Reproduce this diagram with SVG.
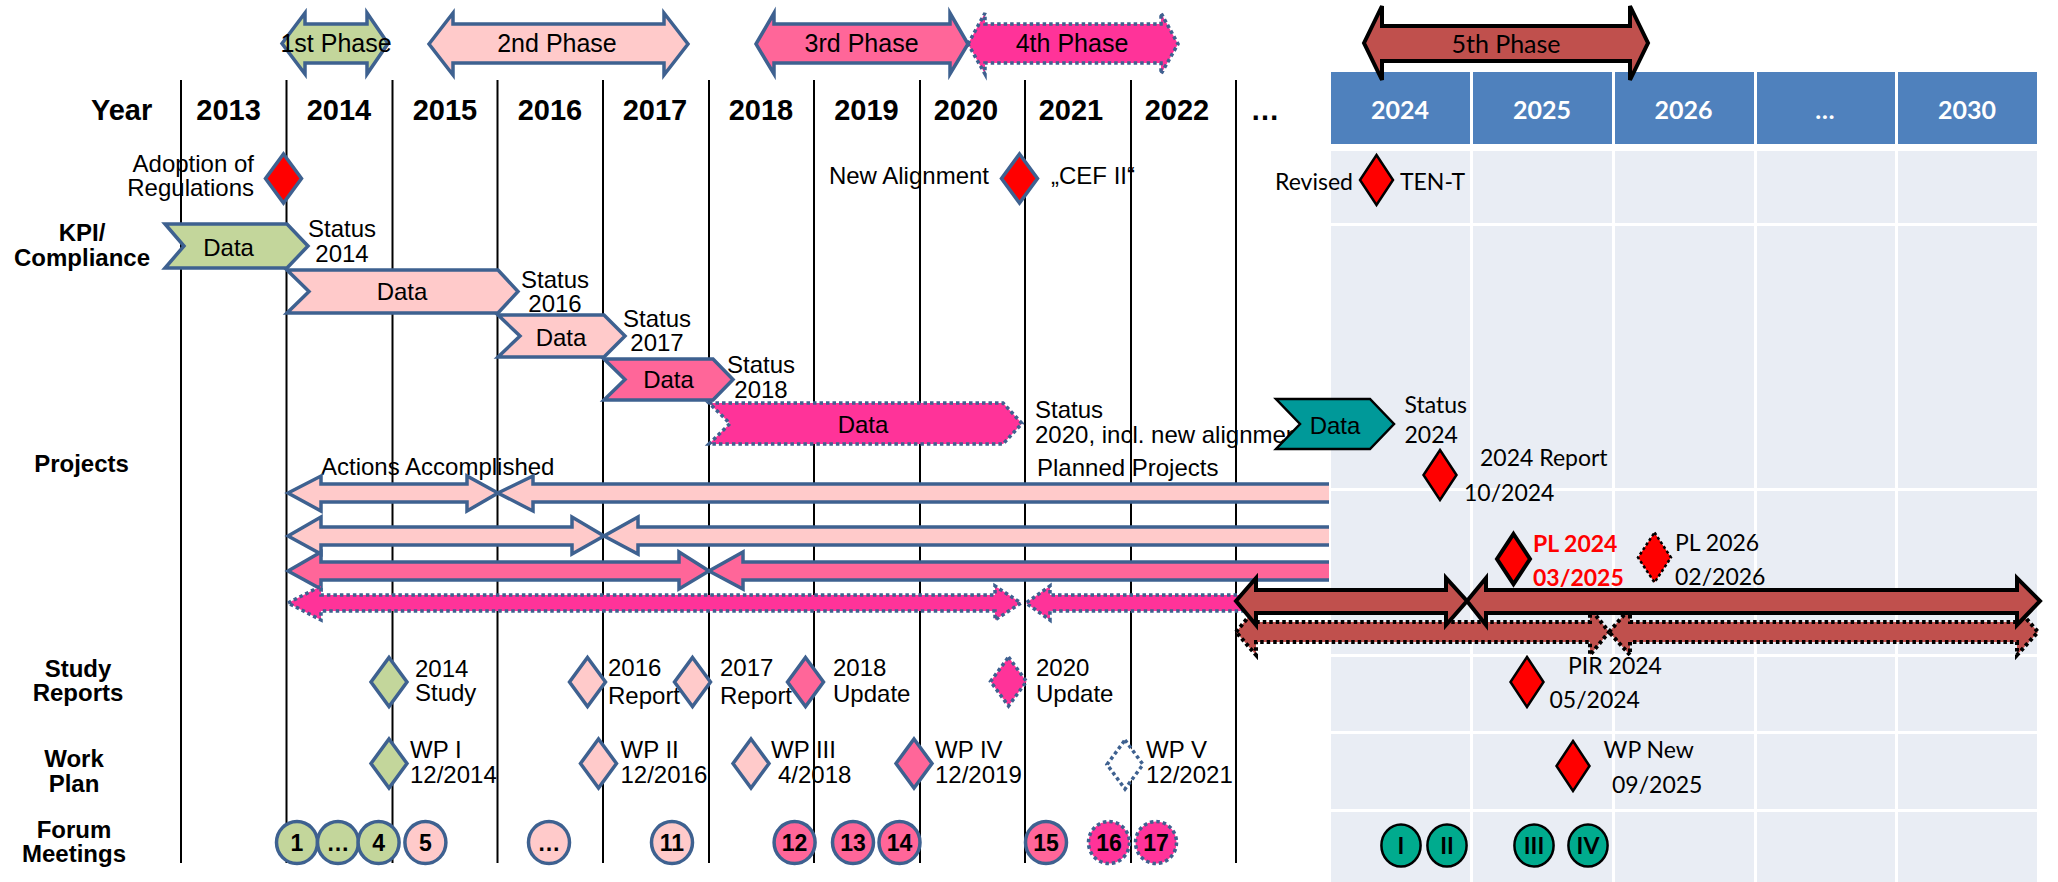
<svg xmlns="http://www.w3.org/2000/svg" xmlns:xlink="http://www.w3.org/1999/xlink" width="2058" height="882" viewBox="0 0 2058 882">
<style>
.t{font-family:"Liberation Sans",Arial,sans-serif;font-size:24px;fill:#000}
.ph{font-size:25px}
.yr{font-family:"Liberation Sans",Arial,sans-serif;font-size:29px;font-weight:bold;fill:#000}
.lb{font-family:"Liberation Sans",Arial,sans-serif;font-size:24px;font-weight:bold;fill:#000}
.cl{font-family:Lato,"Open Sans",sans-serif;font-size:23px;fill:#000}
.hd{font-family:Lato,"Open Sans",sans-serif;font-size:25px;font-weight:bold;fill:#fff}
.num{font-family:"Liberation Sans",Arial,sans-serif;font-size:23px;font-weight:bold;fill:#000}
.rom{font-family:Lato,"Open Sans",sans-serif;font-size:23px;font-weight:bold;fill:#000}
.red{fill:#FF0000;font-weight:bold}
.grid{stroke:#000;stroke-width:2}
.bs{stroke:#3E6190;stroke-width:3.5;stroke-linejoin:miter}
.bd{stroke:#3E6190;stroke-width:3.5;stroke-dasharray:3.5 3}
.ks{stroke:#000;stroke-width:4}
.kd{stroke:#000;stroke-width:4;stroke-dasharray:3.5 3}
.k2{stroke:#000;stroke-width:2.5}
.k2d{stroke:#000;stroke-width:2.5;stroke-dasharray:3 2.5}
.g{fill:#C3D69B}
.lp{fill:#FFCACA}
.pk{fill:#FF6699}
.hp{fill:#FF3399}
.br{fill:#C0504D}
.tl{fill:#009999}
.tc{fill:#00AB8E}
.rd{fill:#FF0000}
.wh{fill:#fff}
.cell{fill:#E9EDF4}
.hcell{fill:#4F81BD}
</style>
<defs>
<path id="dmB" d="M0,-24.5 L18,0 L0,24.5 L-18,0 Z"/>
<path id="dmK" d="M0,-25 L16.5,0 L0,25 L-16.5,0 Z"/>
</defs>
<rect x="0" y="0" width="2058" height="882" fill="#fff"/>

<g id="table">
<rect class="hcell" x="1331" y="72" width="139" height="72"/>
<rect class="hcell" x="1473" y="72" width="139" height="72"/>
<rect class="hcell" x="1615" y="72" width="139" height="72"/>
<rect class="hcell" x="1757" y="72" width="138" height="72"/>
<rect class="hcell" x="1898" y="72" width="139" height="72"/>
<g class="cell">
<rect x="1331" y="151" width="139" height="72"/><rect x="1473" y="151" width="139" height="72"/><rect x="1615" y="151" width="139" height="72"/><rect x="1757" y="151" width="138" height="72"/><rect x="1898" y="151" width="139" height="72"/>
<rect x="1331" y="226" width="139" height="262"/><rect x="1473" y="226" width="139" height="262"/><rect x="1615" y="226" width="139" height="262"/><rect x="1757" y="226" width="138" height="262"/><rect x="1898" y="226" width="139" height="262"/>
<rect x="1331" y="491" width="139" height="163"/><rect x="1473" y="491" width="139" height="163"/><rect x="1615" y="491" width="139" height="163"/><rect x="1757" y="491" width="138" height="163"/><rect x="1898" y="491" width="139" height="163"/>
<rect x="1331" y="657" width="139" height="74"/><rect x="1473" y="657" width="139" height="74"/><rect x="1615" y="657" width="139" height="74"/><rect x="1757" y="657" width="138" height="74"/><rect x="1898" y="657" width="139" height="74"/>
<rect x="1331" y="734" width="139" height="75"/><rect x="1473" y="734" width="139" height="75"/><rect x="1615" y="734" width="139" height="75"/><rect x="1757" y="734" width="138" height="75"/><rect x="1898" y="734" width="139" height="75"/>
<rect x="1331" y="812" width="139" height="70"/><rect x="1473" y="812" width="139" height="70"/><rect x="1615" y="812" width="139" height="70"/><rect x="1757" y="812" width="138" height="70"/><rect x="1898" y="812" width="139" height="70"/>
</g>
<g class="hd" text-anchor="middle">
<text x="1400" y="118.5">2024</text><text x="1542" y="118.5">2025</text><text x="1683.5" y="118.5">2026</text><text x="1825" y="118.5">…</text><text x="1967" y="118.5">2030</text>
</g>
</g>

<g id="gridlines" class="grid">
<line x1="181" y1="80" x2="181" y2="863"/><line x1="286.5" y1="80" x2="286.5" y2="863"/><line x1="392.5" y1="80" x2="392.5" y2="863"/><line x1="497.5" y1="80" x2="497.5" y2="863"/><line x1="603" y1="80" x2="603" y2="863"/><line x1="709" y1="80" x2="709" y2="863"/><line x1="814" y1="80" x2="814" y2="863"/><line x1="920" y1="80" x2="920" y2="863"/><line x1="1025" y1="80" x2="1025" y2="863"/><line x1="1131" y1="80" x2="1131" y2="863"/><line x1="1236" y1="80" x2="1236" y2="863"/>
</g>

<g id="years" class="yr" text-anchor="middle">
<text x="121.6" y="120">Year</text><text x="228.6" y="120">2013</text><text x="339" y="120">2014</text><text x="445" y="120">2015</text><text x="550" y="120">2016</text><text x="655" y="120">2017</text><text x="761" y="120">2018</text><text x="866.5" y="120">2019</text><text x="966" y="120">2020</text><text x="1071" y="120">2021</text><text x="1177" y="120">2022</text><text x="1265" y="120">…</text>
</g>

<g id="rowlabels" class="lb" text-anchor="middle">
<text x="82" y="241">KPI/</text><text x="82" y="265.5">Compliance</text>
<text x="81.5" y="472">Projects</text>
<text x="78" y="677">Study</text><text x="78" y="701">Reports</text>
<text x="74" y="767">Work</text><text x="74" y="792">Plan</text>
<text x="74" y="838">Forum</text><text x="74" y="862">Meetings</text>
</g>

<g id="phase1"><polygon class="g bs" points="282,43.5 305,13 305,24 367,24 367,13 388,43.5 367,74 367,63 305,63 305,74"/><text class="t ph" x="336" y="52" text-anchor="middle">1st Phase</text></g>
<g id="phase2"><polygon class="lp bs" points="429,44 453,13 453,24 664,24 664,13 688,44 664,75 664,63 453,63 453,75"/><text class="t ph" x="557" y="52" text-anchor="middle">2nd Phase</text></g>
<g id="phase3"><polygon class="pk bs" points="756,44 774,13 774,24 950,24 950,13 968,44 950,74 950,63 774,63 774,74"/><text class="t ph" x="861.6" y="52" text-anchor="middle">3rd Phase</text></g>
<g id="phase4"><polygon class="hp bd" points="968,44 985,13 985,24 1161,24 1161,13 1178,44 1161,74 1161,63 985,63 985,74"/><text class="t ph" x="1072" y="52" text-anchor="middle">4th Phase</text></g>
<g id="phase5"><polygon class="br ks" points="1364,43 1382,6 1382,26 1630,26 1630,6 1648,43 1630,80 1630,61 1382,61 1382,80"/><text class="cl" style="font-size:25px" x="1506" y="53" text-anchor="middle">5th Phase</text></g>

<g id="m-adoption"><text class="t" x="254" y="172" text-anchor="end">Adoption of</text><text class="t" x="254" y="196" text-anchor="end">Regulations</text><use xlink:href="#dmB" href="#dmB" x="283.5" y="178.5" class="rd bs"/></g>
<g id="m-cef"><text class="t" x="989" y="184" text-anchor="end">New Alignment</text><use xlink:href="#dmB" href="#dmB" x="1019.5" y="178.5" class="rd bs"/><text class="t" x="1051" y="184">„CEF II“</text></g>
<g id="m-tent"><text class="cl" x="1353" y="190" text-anchor="end">Revised</text><use xlink:href="#dmK" href="#dmK" x="1376.5" y="180" class="rd k2"/><text class="cl" x="1400" y="189.5">TEN-T</text></g>

<g id="kpi2014"><polygon class="g bs" points="165,224 287,224 308,246 287,268 165,268 184,246"/><text class="t" x="228.6" y="256" text-anchor="middle">Data</text><text class="t" x="342" y="236.5" text-anchor="middle">Status</text><text class="t" x="342" y="261.5" text-anchor="middle">2014</text></g>
<g id="kpi2016"><polygon class="lp bs" points="287,270 498,270 518,291.5 498,313 287,313 309,291.5"/><text class="t" x="402" y="300" text-anchor="middle">Data</text><text class="t" x="555" y="288" text-anchor="middle">Status</text><text class="t" x="555" y="312" text-anchor="middle">2016</text></g>
<g id="kpi2017"><polygon class="lp bs" points="498,315 604,315 625,336 604,357 498,357 520,336"/><text class="t" x="561" y="345.5" text-anchor="middle">Data</text><text class="t" x="657" y="326.7" text-anchor="middle">Status</text><text class="t" x="657" y="350.7" text-anchor="middle">2017</text></g>
<g id="kpi2018"><polygon class="pk bs" points="604,359 713,359 733,379.5 713,400 604,400 625,379.5"/><text class="t" x="668.5" y="388" text-anchor="middle">Data</text><text class="t" x="761" y="373" text-anchor="middle">Status</text><text class="t" x="761" y="398" text-anchor="middle">2018</text></g>
<g id="kpi2020"><polygon class="hp bd" points="709,403 1003,403 1022,423.5 1003,444 709,444 730,423.5"/><text class="t" x="863" y="432.5" text-anchor="middle">Data</text><text class="t" x="1035" y="418">Status</text><text class="t" x="1035" y="443">2020, incl. new alignment</text></g>
<g id="kpi2024"><polygon class="tl k2" points="1276,399 1370,399 1394,424 1370,449 1276,449 1300,424"/><text class="t" x="1335" y="434" text-anchor="middle">Data</text><text class="cl" x="1404.5" y="413">Status</text><text class="cl" x="1404.5" y="443">2024</text></g>

<g id="connectors">
<text class="t" x="321" y="475">Actions Accomplished</text>
<text class="t" x="1037" y="476">Planned Projects</text>
<polygon class="lp bs" points="288,493 321,476 321,484 467,484 467,476 498,493 467,511 467,502 321,502 321,511"/>
<path class="lp bs" d="M1329,484 L533,484 L533,476 L498,493 L533,511 L533,502 L1329,502"/>
<polygon class="lp bs" points="288,536 321,517 321,527 572,527 572,517 604,536 572,554 572,545 321,545 321,554"/>
<path class="lp bs" d="M1329,527 L638,527 L638,517 L604,536 L638,554 L638,545 L1329,545"/>
<polygon class="pk bs" points="288,571 321,552 321,562 679,562 679,552 709,571 679,589 679,580 321,580 321,589"/>
<path class="pk bs" d="M1329,562 L743,562 L743,552 L709,571 L743,589 L743,580 L1329,580"/>
<polygon class="hp bd" points="288,603 321,586 321,595 995,595 995,586 1021,603 995,620 995,611 321,611 321,620"/>
<path class="hp bd" d="M1250,595 L1050,595 L1050,586 L1026,603 L1050,620 L1050,611 L1250,611"/>
<polygon class="br kd" points="1236,632 1256,608 1256,622 1590,622 1590,608 1609,632 1590,655 1590,642 1256,642 1256,655"/>
<polygon class="br kd" points="1609,632 1630,608 1630,622 2017,622 2017,608 2038,632 2017,655 2017,642 1630,642 1630,655"/>
<polygon class="br ks" points="1236,601 1256,578 1256,590 1446,590 1446,578 1467,601 1446,625 1446,613 1256,613 1256,625"/>
<polygon class="br ks" points="1467,601 1486,578 1486,590 2017,590 2017,578 2040,601 2017,625 2017,613 1486,613 1486,625"/>
</g>

<g id="p-report2024"><use xlink:href="#dmK" href="#dmK" x="1440" y="475" class="rd k2"/><text class="cl" x="1480" y="466">2024 Report</text><text class="cl" x="1464" y="501">10/2024</text></g>
<g id="p-pl2024"><use xlink:href="#dmK" href="#dmK" x="1513.5" y="559" class="rd ks"/><text class="cl red" x="1533" y="552">PL 2024</text><text class="cl red" x="1533" y="586">03/2025</text></g>
<g id="p-pl2026"><use xlink:href="#dmK" href="#dmK" x="1654.5" y="557.5" class="rd k2d"/><text class="cl" x="1675" y="551">PL 2026</text><text class="cl" x="1675" y="585">02/2026</text></g>

<g id="s-2014"><use xlink:href="#dmB" href="#dmB" x="389" y="682" class="g bs"/><text class="t" x="415" y="676.7">2014</text><text class="t" x="415" y="700.5">Study</text></g>
<g id="s-2016"><use xlink:href="#dmB" href="#dmB" x="587.5" y="682" class="lp bs"/><text class="t" x="608" y="676">2016</text><text class="t" x="608" y="704">Report</text></g>
<g id="s-2017"><use xlink:href="#dmB" href="#dmB" x="692.5" y="682" class="lp bs"/><text class="t" x="720" y="676">2017</text><text class="t" x="720" y="704">Report</text></g>
<g id="s-2018"><use xlink:href="#dmB" href="#dmB" x="805.5" y="682" class="pk bs"/><text class="t" x="833" y="676">2018</text><text class="t" x="833" y="702">Update</text></g>
<g id="s-2020"><use xlink:href="#dmB" href="#dmB" x="1008.5" y="681.5" class="hp bd"/><text class="t" x="1036" y="676">2020</text><text class="t" x="1036" y="702">Update</text></g>
<g id="s-pir"><use xlink:href="#dmK" href="#dmK" x="1527" y="682" class="rd k2"/><text class="cl" x="1568" y="674">PIR 2024</text><text class="cl" x="1549.5" y="708">05/2024</text></g>

<g id="w-1"><use xlink:href="#dmB" href="#dmB" x="389" y="763.5" class="g bs"/><text class="t" x="410" y="758">WP I</text><text class="t" x="410" y="783">12/2014</text></g>
<g id="w-2"><use xlink:href="#dmB" href="#dmB" x="598.5" y="763.5" class="lp bs"/><text class="t" x="620.5" y="758">WP II</text><text class="t" x="620.5" y="783">12/2016</text></g>
<g id="w-3"><use xlink:href="#dmB" href="#dmB" x="751" y="763.5" class="lp bs"/><text class="t" x="771" y="758">WP III</text><text class="t" x="778" y="783">4/2018</text></g>
<g id="w-4"><use xlink:href="#dmB" href="#dmB" x="914" y="763.5" class="pk bs"/><text class="t" x="935" y="758">WP IV</text><text class="t" x="935" y="783">12/2019</text></g>
<g id="w-5"><use xlink:href="#dmB" href="#dmB" x="1125" y="764.5" class="wh bd"/><text class="t" x="1146" y="758">WP V</text><text class="t" x="1146" y="783">12/2021</text></g>
<g id="w-new"><use xlink:href="#dmK" href="#dmK" x="1573" y="766" class="rd k2"/><text class="cl" x="1603.6" y="758">WP New</text><text class="cl" x="1612" y="793">09/2025</text></g>

<g id="forum" text-anchor="middle">
<g id="f1"><ellipse class="g bs" cx="297" cy="842.5" rx="20.5" ry="21"/><text class="num" x="297" y="851">1</text></g>
<g id="f2"><ellipse class="g bs" cx="338" cy="842.5" rx="20.5" ry="21"/><text class="num" x="338" y="851">…</text></g>
<g id="f4"><ellipse class="g bs" cx="378.6" cy="842.5" rx="20.5" ry="21"/><text class="num" x="378.6" y="851">4</text></g>
<g id="f5"><ellipse class="lp bs" cx="425.4" cy="842.5" rx="20.5" ry="21"/><text class="num" x="425.4" y="851">5</text></g>
<g id="f6"><ellipse class="lp bs" cx="549" cy="842.5" rx="20.5" ry="21"/><text class="num" x="549" y="851">…</text></g>
<g id="f11"><ellipse class="lp bs" cx="672" cy="842.5" rx="20.5" ry="21"/><text class="num" x="672" y="851">11</text></g>
<g id="f12"><ellipse class="pk bs" cx="794.6" cy="842.5" rx="20.5" ry="21"/><text class="num" x="794.6" y="851">12</text></g>
<g id="f13"><ellipse class="pk bs" cx="853" cy="842.5" rx="20.5" ry="21"/><text class="num" x="853" y="851">13</text></g>
<g id="f14"><ellipse class="pk bs" cx="899.5" cy="842.5" rx="20.5" ry="21"/><text class="num" x="899.5" y="851">14</text></g>
<g id="f15"><ellipse class="pk bs" cx="1046" cy="842.5" rx="20.5" ry="21"/><text class="num" x="1046" y="851">15</text></g>
<g id="f16"><ellipse class="hp bd" cx="1109" cy="842.5" rx="20.5" ry="21"/><text class="num" x="1109" y="851">16</text></g>
<g id="f17"><ellipse class="hp bd" cx="1156" cy="842.5" rx="20.5" ry="21"/><text class="num" x="1156" y="851">17</text></g>
<g id="fI"><ellipse class="tc k2" cx="1401" cy="845.5" rx="19.6" ry="21"/><text class="rom" x="1401" y="854">I</text></g>
<g id="fII"><ellipse class="tc k2" cx="1447" cy="845.5" rx="19.6" ry="21"/><text class="rom" x="1447" y="854">II</text></g>
<g id="fIII"><ellipse class="tc k2" cx="1534" cy="845.5" rx="19.6" ry="21"/><text class="rom" x="1534" y="854">III</text></g>
<g id="fIV"><ellipse class="tc k2" cx="1588" cy="845.5" rx="19.6" ry="21"/><text class="rom" x="1588" y="854">IV</text></g>
</g>
</svg>
